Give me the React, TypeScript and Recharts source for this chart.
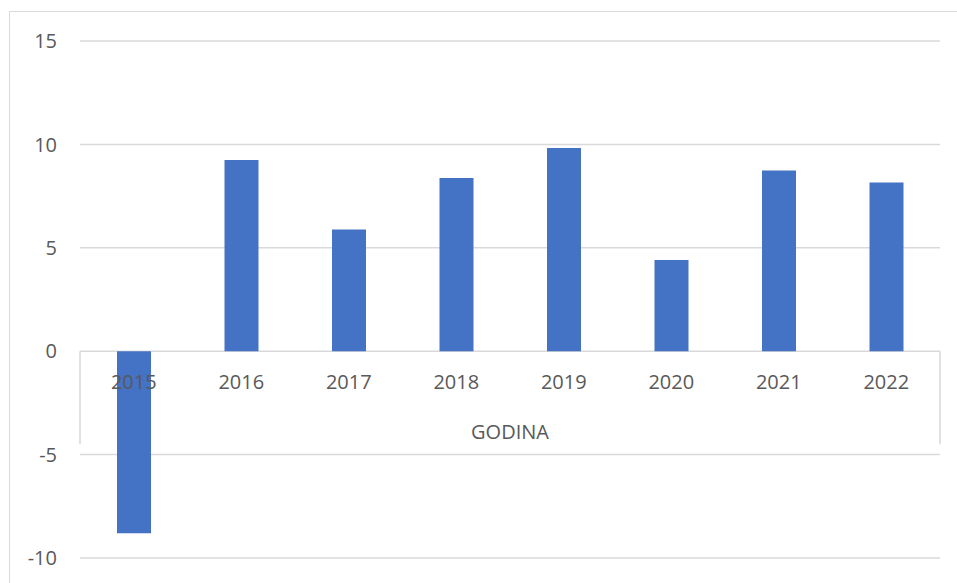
import React from 'react';
import { BarChart, Bar, XAxis, YAxis, CartesianGrid } from 'recharts';

const years = ['2015', '2016', '2017', '2018', '2019', '2020', '2021', '2022'];
const values = [-8.8, 9.24, 5.89, 8.38, 9.82, 4.41, 8.74, 8.16];
const yTicks = [-10, -5, 0, 5, 10, 15];

const chartData = years.map((year, i) => ({ year, value: values[i] }));

// plot box (matches margins below)
const W = 957;
const H = 583;
const PLOT_LEFT = 80;
const PLOT_RIGHT = 940;
const PLOT_TOP = 41;
const PLOT_BOTTOM = 558;
const Y_MIN = -10;
const Y_MAX = 15;
const zeroY = PLOT_TOP + ((Y_MAX - 0) / (Y_MAX - Y_MIN)) * (PLOT_BOTTOM - PLOT_TOP);
const band = (PLOT_RIGHT - PLOT_LEFT) / years.length;

const textColor = '#595959';
const gridColor = '#d9d9d9';
const font = '"Open Sans", sans-serif';

// Category labels sit just below the zero line, like Excel does
const YearTick = (props: any) => {
  const { x, index, payload } = props;
  const isFirst = index === 0;
  const isLast = index === years.length - 1;
  return (
    <g>
      <text
        x={x}
        y={zeroY + 38}
        textAnchor="middle"
        fill={textColor}
        fontSize={20}
        fontFamily={font}
      >
        {payload.value}
      </text>
      {isFirst && (
        <line x1={x - band / 2} x2={x - band / 2} y1={zeroY} y2={zeroY + 93} stroke={gridColor} strokeWidth={1.5} />
      )}
      {isLast && (
        <line x1={x + band / 2} x2={x + band / 2} y1={zeroY} y2={zeroY + 93} stroke={gridColor} strokeWidth={1.5} />
      )}
      {isLast && (
        <text
          x={(PLOT_LEFT + PLOT_RIGHT) / 2}
          y={zeroY + 88}
          textAnchor="middle"
          fill={textColor}
          fontSize={20}
          fontFamily={font}
        >
          GODINA
        </text>
      )}
    </g>
  );
};

export default function App() {
  return (
    <div style={{ position: 'absolute', left: 0, top: 0, width: W, height: H, overflow: 'hidden', background: '#fff' }}>
      <div
        style={{
          position: 'absolute',
          left: 9,
          top: 11,
          width: 1200,
          height: 800,
          border: `1.5px solid ${gridColor}`,
        }}
      />
      <div style={{ position: 'absolute', left: 0, top: 0 }}>
        <BarChart
          width={W}
          height={H}
          data={chartData}
          margin={{ top: PLOT_TOP, right: W - PLOT_RIGHT, bottom: 0, left: 20 }}
        >
          <CartesianGrid vertical={false} stroke={gridColor} strokeWidth={1.5} />
          <Bar dataKey="value" fill="#4472c4" barSize={34} isAnimationActive={false} />
          <XAxis
            dataKey="year"
            height={H - PLOT_BOTTOM}
            axisLine={false}
            tickLine={false}
            tick={<YearTick />}
            interval={0}
          />
          <YAxis
            width={60}
            domain={[Y_MIN, Y_MAX]}
            ticks={yTicks}
            axisLine={false}
            tickLine={false}
            tickSize={0}
            tickMargin={23}
            tick={{ fill: textColor, fontSize: 20, fontFamily: font }}
          />
        </BarChart>
      </div>
    </div>
  );
}
